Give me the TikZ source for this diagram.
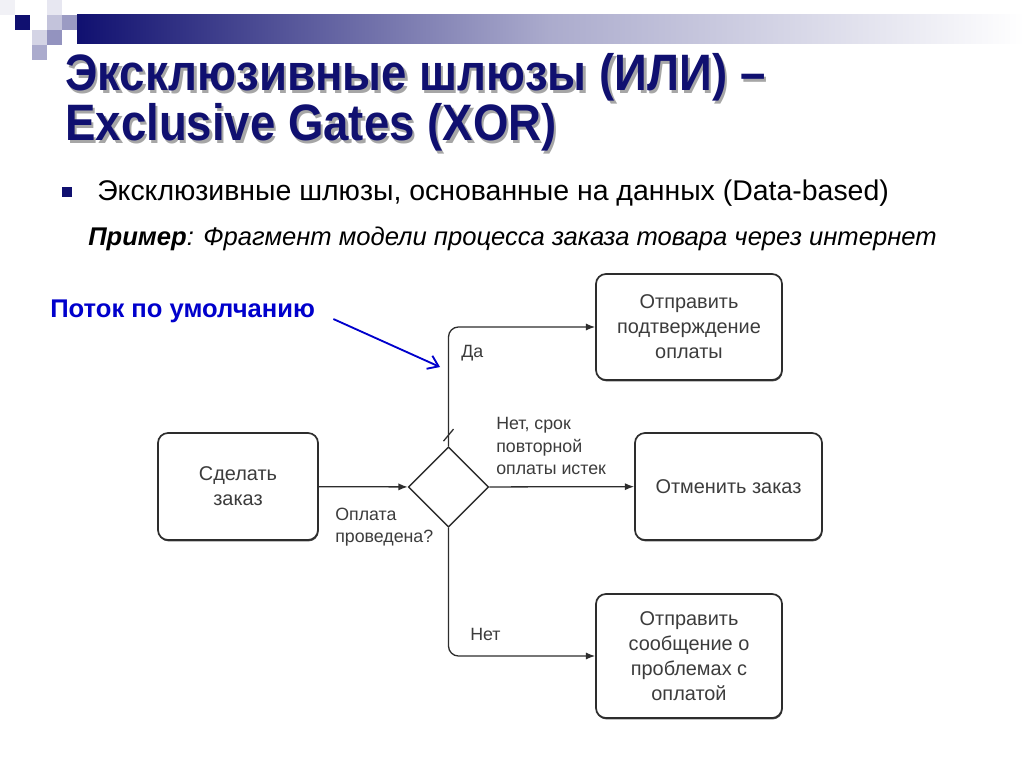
\documentclass[tikz,border=0pt]{standalone}
\usepackage{fontspec}
\setmainfont{Liberation Sans}
\newfontfamily\titlefont[FakeStretch=0.89]{Liberation Sans}
\usetikzlibrary{arrows.meta,shapes.geometric,shadows}
\definecolor{navy}{RGB}{16,16,112}
\definecolor{gateblue}{RGB}{0,0,204}
\definecolor{boxgray}{RGB}{45,45,45}
\definecolor{textgray}{RGB}{60,60,60}
\tikzset{
	task/.style={draw=boxgray, line width=1.2pt, rounded corners=7pt, fill=white, align=center, text=textgray, inner sep=0pt,
		font=\fontsize{14}{17.5}\selectfont, drop shadow={shadow xshift=0.4pt, shadow yshift=-1pt, opacity=0.7, fill=black}},
	gateway/.style={draw=boxgray, line width=1pt, diamond, aspect=1, inner sep=0pt, minimum width=56.5pt, minimum height=56.5pt},
	flow/.style={draw=boxgray, line width=0.9pt, -{Latex[length=6.5pt,width=5pt]}},
	flowlabel/.style={text=textgray, inner sep=0pt, align=left, font=\fontsize{12.5}{15.8}\selectfont},
	defarrow/.style={draw=gateblue, line width=1.3pt, -{Straight Barb[length=7pt,width=10pt]}},
	titletext/.style={anchor=base west, inner sep=0pt, font=\titlefont\bfseries\fontsize{36}{36}\selectfont}
}

\begin{document}
\begin{tikzpicture}[x=0.703125pt, y=-0.703125pt]
	\useasboundingbox (0,0) rectangle (1024,768);
	\fill[white] (0,0) rectangle (1024,768);
	\shade[left color=navy, right color=white, middle color=navy!35] (77,15) rectangle (1024,44);
	\fill[navy!6] (0,0) rectangle (15,15);
	\fill[navy!10] (47,0) rectangle (62,15);
	\fill[navy!25] (47,15) rectangle (62,30);
	\fill[navy!42] (62,15) rectangle (77,30);
	\fill[navy] (15,15) rectangle (30,30);
	\fill[navy!18] (32,30) rectangle (47,45);
	\fill[navy!45] (47,30) rectangle (62,45);
	\fill[navy!35] (32,45) rectangle (47,60);

	\node (shadow1) [titletext, text=gray!70] at (67.5,93.5) {Эксклюзивные шлюзы (ИЛИ) –};
	\node (shadow2) [titletext, text=gray!70] at (67.5,143.5) {Exclusive Gates (XOR)};
	\node (title1) [titletext, text=navy] at (65,91) {Эксклюзивные шлюзы (ИЛИ) –};
	\node (title2) [titletext, text=navy] at (65,141) {Exclusive Gates (XOR)};

	\fill[navy] (62,187) rectangle (72,197);
	\node (bullet) [anchor=base west, inner sep=0pt, font=\fontsize{20}{20}\selectfont] at (97,201) {Эксклюзивные шлюзы, основанные на данных (Data-based)};
	\node (example) [anchor=base west, inner sep=0pt, font=\itshape\fontsize{18}{18}\selectfont] at (88,246) {\textbf{Пример}: Фрагмент модели процесса заказа товара через интернет};

	\node (deflabel) [anchor=base west, inner sep=0pt, text=gateblue, font=\bfseries\fontsize{18}{18}\selectfont] at (50,317) {Поток по умолчанию};

	\node (order) [task, minimum width=112.5pt, minimum height=75.2pt] at (238,486.5) {Сделать\\заказ};
	\node (gw) [gateway] at (448.5,487) {};
	\node (confirm) [task, minimum width=130.8pt, minimum height=74.5pt] at (689,327) {Отправить\\подтверждение\\оплаты};
	\node (cancel) [task, minimum width=131.5pt, minimum height=75.2pt] at (728.5,486.5) {Отменить заказ};
	\node (problem) [task, minimum width=130.8pt, minimum height=87.2pt] at (689,656) {Отправить\\сообщение о\\проблемах с\\оплатой};

	\draw[flow] (order) -- (gw);
	\draw[flow, rounded corners=7pt] (gw.north) |- (confirm.west);
	\draw[flow] (gw) -- (cancel);
	\draw[flow, rounded corners=7pt] (gw.south) |- (problem.west);
	\draw[draw=boxgray, line width=0.9pt] ([shift={(-5,-5)}]gw.north) -- ++(10,-12);

	\coordinate (defpt) at (440,367);
	\draw[defarrow, shorten <=14pt] (deflabel.east) -- (defpt);

	\node (yes) [flowlabel, anchor=west] at (461,353) {Да};
	\node (expired) [flowlabel, anchor=west] at (496,446) {Нет, срок\\повторной\\оплаты истек};
	\node (paid) [flowlabel, anchor=west] at (335,527) {Оплата\\проведена?};
	\node (no) [flowlabel, anchor=west] at (470,634) {Нет};
\end{tikzpicture}
\end{document}
